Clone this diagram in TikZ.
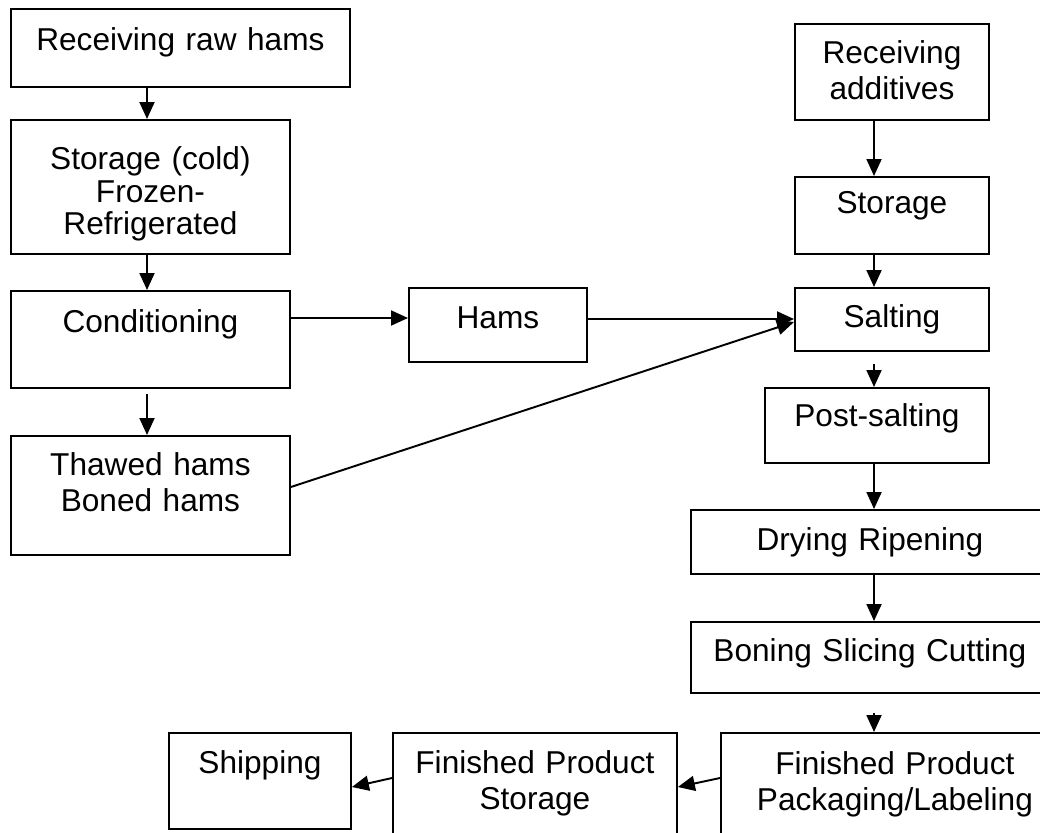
\documentclass[tikz,border=0pt]{standalone}
\usepackage{fontspec}
\setmainfont{Liberation Sans}
\usetikzlibrary{arrows.meta,calc}
\begin{document}
\begin{tikzpicture}[x=0.02cm,y=-0.02cm,
  font=\fontsize{18}{20}\selectfont,
  box/.style={draw, line width=1.1pt, rectangle, inner sep=0pt, align=center, anchor=north west},
  arr/.style={line width=1.1pt, -{Triangle[length=0.34cm,width=0.3cm]}}]
\useasboundingbox (0,0) rectangle (1040,832);
\clip (0,0) rectangle (1040,832);
% left column
\node[box, text width=6.78cm, text height=0.84cm, text depth=0.72cm] (recv) at (10,8) {Receiving raw hams};
\node[box, font=\fontsize{18}{18.4}\selectfont, text width=5.58cm, text height=1.00cm, text depth=1.68cm] (stor) at (10,119) {Storage (cold)\\Frozen-\\Refrigerated};
\node[box, text width=5.58cm, text height=0.84cm, text depth=1.10cm] (cond) at (10,290) {Conditioning};
\node[box, text width=5.58cm, text height=0.80cm, text depth=1.58cm] (thaw) at (10,435) {Thawed hams\\Boned hams};
\node[box, text width=3.56cm, text height=0.82cm, text depth=0.66cm] (hams) at (408,287) {Hams};
% right column
\node[box, text width=3.88cm, text height=0.80cm, text depth=1.12cm] (radd) at (794,23) {Receiving\\additives};
\node[box, text width=3.88cm, text height=0.74cm, text depth=0.80cm] (sadd) at (794,176) {Storage};
\node[box, text width=3.88cm, text height=0.80cm, text depth=0.46cm] (salt) at (794,287) {Salting};
\node[box, text width=4.48cm, text height=0.78cm, text depth=0.72cm] (post) at (764,387) {Post-salting};
\node[box, text width=7.16cm, text height=0.82cm, text depth=0.46cm] (dry) at (690,509) {Drying Ripening};
\node[box, text width=7.16cm, text height=0.80cm, text depth=0.62cm] (bone) at (690,621) {Boning Slicing Cutting};
% bottom row
\node[box, text width=6.96cm, text height=0.84cm, text depth=1.52cm] (pack) at (720,732) {Finished Product\\Packaging/Labeling};
\node[box, text width=5.68cm, text height=0.82cm, text depth=1.54cm] (fps) at (392,732) {Finished Product\\Storage};
\node[box, text width=3.64cm, text height=0.82cm, text depth=1.10cm] (ship) at (168,732) {Shipping};
% connectors
\draw[arr] ($(recv.south west)+(137,0)$) -- ($(stor.north west)+(137,0)$);
\draw[arr] ($(stor.south west)+(137,0)$) -- ($(cond.north west)+(137,0)$);
\draw[arr] ($(cond.south west)+(137,5)$) -- ($(thaw.north west)+(137,0)$);
\draw[arr] ($(cond.north east)+(0,28)$) -- ($(hams.north west)+(0,31)$);
\draw[arr] ($(hams.north east)+(0,32)$) -- ($(salt.north west)+(0,32)$);
\draw[arr] ($(thaw.north east)+(0,52)$) -- ($(salt.north west)+(0,35)$);
\draw[arr] ($(radd.south west)+(80,0)$) -- ($(sadd.north west)+(80,0)$);
\draw[arr] ($(sadd.south west)+(80,0)$) -- ($(salt.north west)+(80,0)$);
\draw[arr] ($(salt.south west)+(80,12)$) -- ($(post.north west)+(110,0)$);
\draw[arr] ($(post.south west)+(110,0)$) -- ($(dry.north west)+(184,0)$);
\draw[arr] ($(dry.south west)+(184,0)$) -- ($(bone.north west)+(184,0)$);
\draw[arr] ($(bone.south west)+(184,19)$) -- ($(pack.north west)+(154,0)$);
\draw[arr] ($(pack.north west)+(0,46)$) -- ($(fps.north east)+(0,55)$);
\draw[arr] ($(fps.north west)+(0,46)$) -- ($(ship.north east)+(0,55)$);
\end{tikzpicture}
\end{document}
